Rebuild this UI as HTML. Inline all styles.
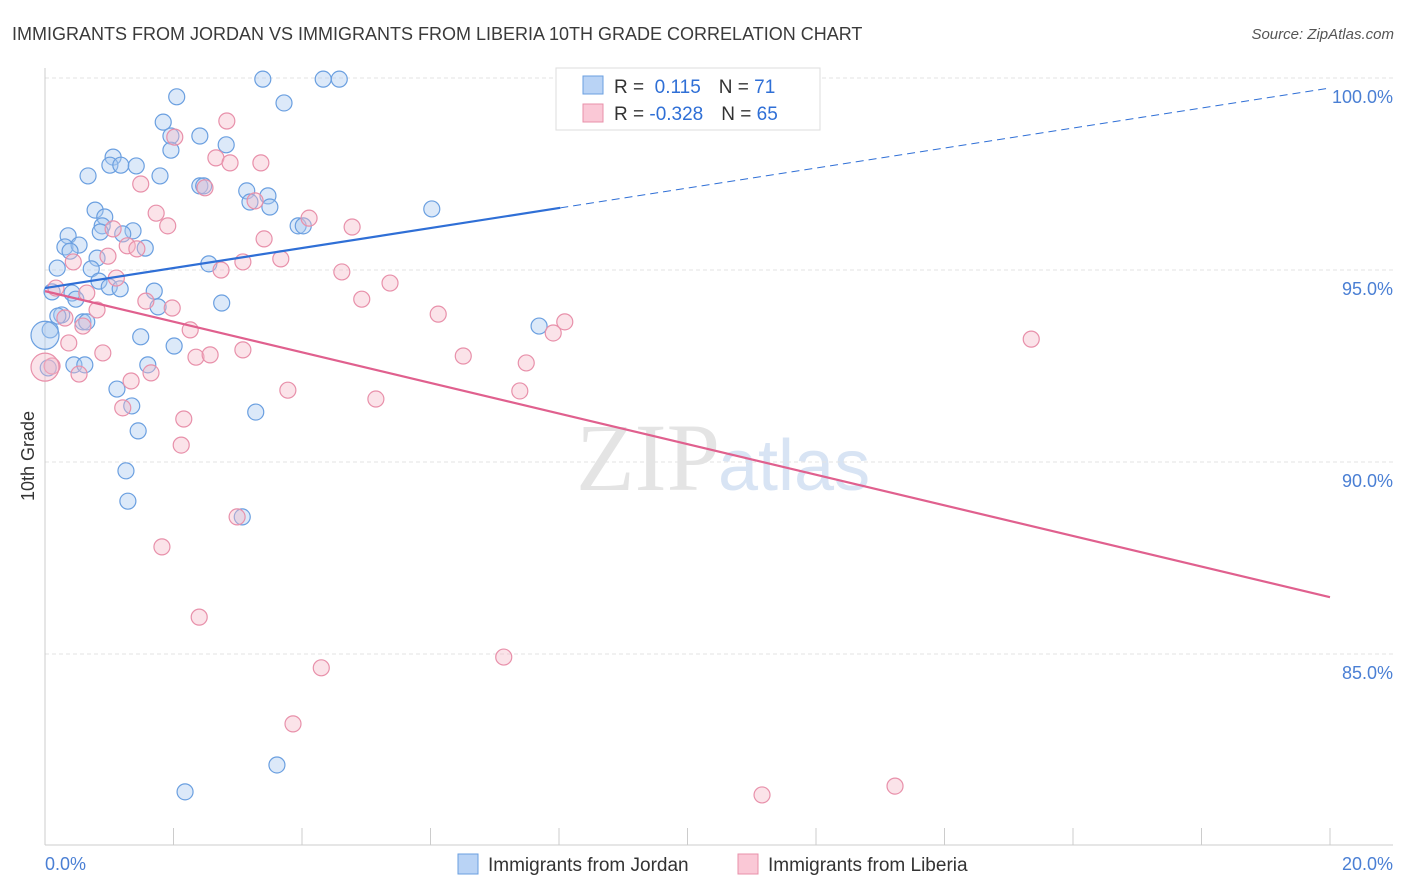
<!DOCTYPE html>
<html><head><meta charset="utf-8"><style>
body{margin:0;background:#fff;font-family:"Liberation Sans",sans-serif;}
svg{display:block}
</style></head><body>
<svg id="chart" width="1406" height="892">
<text x="12" y="40" font-size="18" fill="#3a3a3a">IMMIGRANTS FROM JORDAN VS IMMIGRANTS FROM LIBERIA 10TH GRADE CORRELATION CHART</text>
<text x="1394" y="39" font-size="15" fill="#555" text-anchor="end" font-style="italic">Source: ZipAtlas.com</text>
<text x="720" y="490" font-size="96" fill="#e4e4e4" text-anchor="end" font-family="Liberation Serif,serif">ZIP</text>
<text x="718" y="490" font-size="72" fill="#d8e4f4">atlas</text>
<text transform="translate(34,456) rotate(-90)" font-size="18" fill="#333" text-anchor="middle">10th Grade</text>
<g id="grid"></g><g id="axes"></g><g id="pts"></g><g id="lines"></g>
<g>
<rect x="556" y="68" width="264" height="62" fill="#fff" stroke="#ddd"/>
<rect x="583" y="76" width="20" height="18" fill="#b9d3f5" stroke="#6a9fe0"/>
<rect x="583" y="104" width="20" height="18" fill="#fac8d6" stroke="#e890aa"/>
<text x="614" y="93" font-size="19" fill="#333">R = <tspan fill="#2f6fd6">&#160;0.115</tspan><tspan dx="18">N = </tspan><tspan fill="#2f6fd6"> 71</tspan></text>
<text x="614" y="120" font-size="19" fill="#333">R = <tspan fill="#2f6fd6">-0.328</tspan><tspan dx="18">N = </tspan><tspan fill="#2f6fd6">65</tspan></text>
</g>
<g>
<rect x="458" y="854" width="20" height="20" fill="#b9d3f5" stroke="#6a9fe0"/>
<text x="488" y="871" font-size="19" fill="#333">Immigrants from Jordan</text>
<rect x="738" y="854" width="20" height="20" fill="#fac8d6" stroke="#e890aa"/>
<text x="768" y="871" font-size="19" fill="#333">Immigrants from Liberia</text>
</g>
</svg>
<script>
const yTicks=[100,95,90,85];
const yTickLabels=["100.0%","95.0%","90.0%","85.0%"];
const xTickLabels=["0.0%","20.0%"];
const jordanX=[3.39,4.33,4.58,2.05,3.72,1.84,1.96,2.41,2.82,1.96,1.06,1.01,1.18,1.42,0.67,1.79,2.41,2.47,3.14,3.47,3.19,3.50,0.78,6.02,0.93,0.89,3.94,4.02,0.86,1.37,1.21,0.36,1.56,0.31,0.53,0.39,0.81,0.19,2.55,0.72,0.84,0.11,1.0,1.17,1.70,0.42,0.48,2.75,1.76,0.26,0.20,0.59,0.65,7.69,1.49,2.01,0.08,0.05,0.45,0.62,1.60,1.12,1.35,3.28,1.45,1.26,1.29,3.07,3.61,2.18,0];
const jordanY=[99.97,99.97,99.97,99.51,99.35,98.85,98.49,98.49,98.26,98.12,97.94,97.73,97.73,97.71,97.45,97.45,97.19,97.19,97.06,96.93,96.77,96.64,96.56,96.59,96.38,96.15,96.15,96.15,95.99,96.02,95.94,95.89,95.57,95.60,95.65,95.49,95.31,95.05,95.16,95.03,94.71,94.43,94.56,94.51,94.45,94.40,94.24,94.14,94.04,93.83,93.80,93.65,93.65,93.54,93.26,93.02,93.44,92.45,92.53,92.53,92.53,91.90,91.46,91.30,90.81,89.77,88.98,88.57,82.11,81.41,93.3];
const liberiaX=[9.42,2.83,2.02,2.66,2.88,3.36,1.49,2.49,3.27,1.73,4.11,1.91,4.78,1.06,3.41,1.28,1.43,0.98,3.67,0.44,3.08,2.74,4.62,1.11,5.37,0.17,0.65,4.93,1.57,1.98,0.81,6.12,0.31,8.09,0.59,2.26,7.91,15.35,0.37,3.08,0.90,6.51,2.35,2.57,7.49,0.11,1.65,0.53,1.34,3.78,7.39,1.21,5.15,2.16,2.12,2.99,1.82,2.40,4.30,7.14,3.86,11.16,13.23,0];
const liberiaY=[99.97,98.88,98.46,97.92,97.79,97.79,97.24,97.14,96.80,96.48,96.35,96.15,96.12,96.07,95.81,95.63,95.55,95.36,95.29,95.21,95.21,95.0,94.95,94.79,94.66,94.53,94.40,94.24,94.19,94.01,93.96,93.85,93.75,93.65,93.54,93.44,93.36,93.20,93.10,92.92,92.84,92.76,92.73,92.79,92.58,92.50,92.32,92.29,92.11,91.87,91.85,91.41,91.64,91.12,90.44,88.57,87.79,85.96,84.64,84.92,83.18,81.33,81.56,92.47];
const jordanTrend=[94.53,99.74], jordanSolidEnd=8.02;
const liberiaTrend=[94.45,86.48];
const NS="http://www.w3.org/2000/svg";
const sx=v=>45+v/20*1285, sy=v=>78+(100-v)/5*192;
function mk(tag,attrs,parent){const e=document.createElementNS(NS,tag);for(const k in attrs)e.setAttribute(k,attrs[k]);parent.appendChild(e);return e;}
const grid=document.getElementById('grid'),axes=document.getElementById('axes'),pts=document.getElementById('pts'),lines=document.getElementById('lines');
yTicks.forEach((t,i)=>{
 const l=mk('line',{x1:45,x2:1393,y1:sy(t),y2:sy(t),stroke:'#e3e3e3','stroke-dasharray':'4,3'},grid);
 
 
 const tx=mk('text',{x:1393,y:sy(t)+25,'font-size':18,fill:'#4a7fd4','text-anchor':'end'},axes);
 tx.textContent=yTickLabels[i];
 
 
});
const ax=mk('line',{x1:45,x2:1393,y1:845,y2:845,stroke:'#ccc'},axes);


const ay=mk('line',{x1:45,x2:45,y1:68,y2:845,stroke:'#ccc'},axes);


for(let i=0;i<=10;i++){const t=mk('line',{x1:sx(i*2),x2:sx(i*2),y1:828,y2:845,stroke:'#ccc'},axes);
 
 }
[0,20].forEach((v,i)=>{const t=mk('text',{x:i?1393:45,y:870,'font-size':18,fill:'#4a7fd4','text-anchor':i?'end':'start'},axes);t.textContent=xTickLabels[i];
 
 });
function dots(X,Y,fill,stroke,name){X.forEach((x,i)=>{const big=(x===0);
 const c=mk('circle',{cx:sx(x),cy:sy(Y[i]),r:big?14:8,fill:fill,'fill-opacity':0.4,stroke:stroke,'stroke-width':1.2},pts);
 
 });}
dots(jordanX,jordanY,'#a8c8f0','#6a9fe0','point-jordan');
dots(liberiaX,liberiaY,'#f6b8c8','#e890aa','point-liberia');
const jAt=x=>jordanTrend[0]+(jordanTrend[1]-jordanTrend[0])*x/20;
const l1=mk('line',{x1:sx(0),y1:sy(jAt(0)),x2:sx(jordanSolidEnd),y2:sy(jAt(jordanSolidEnd)),stroke:'#2f6fd6','stroke-width':2.2},lines);


const l2=mk('line',{x1:sx(jordanSolidEnd),y1:sy(jAt(jordanSolidEnd)),x2:sx(20),y2:sy(jAt(20)),stroke:'#2f6fd6','stroke-width':1,'stroke-dasharray':'8,5'},lines);


const l3=mk('line',{x1:sx(0),y1:sy(liberiaTrend[0]),x2:sx(20),y2:sy(liberiaTrend[1]),stroke:'#e0608e','stroke-width':2.2},lines);


</script>
</body></html>
